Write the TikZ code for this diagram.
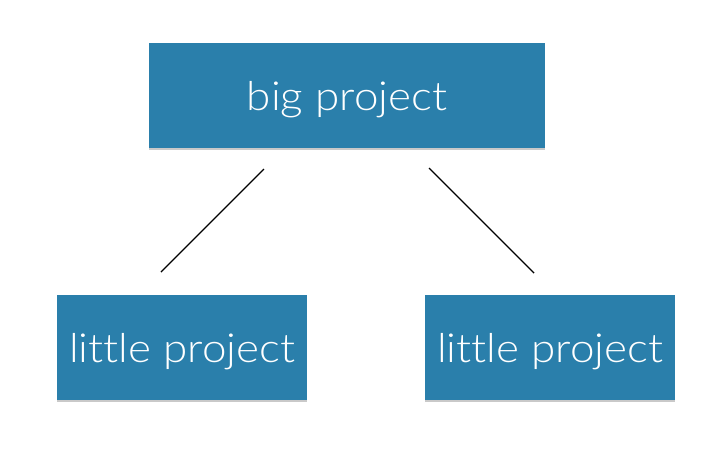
\documentclass[tikz,border=0pt]{standalone}
\usepackage{fontspec}
\setmainfont{Lato Light}[Ligatures=NoCommon, FakeStretch=1.1]
\usetikzlibrary{shadows}
\definecolor{boxblue}{HTML}{2A7FAB}
\begin{document}
\begin{tikzpicture}[x=1pt,y=-1pt,
  proj/.style={fill=boxblue, draw=none, text=white, inner sep=0pt,
    drop shadow={shadow xshift=0pt, shadow yshift=-1.5pt, opacity=0.35, fill=black!60},
    font=\fontsize{40}{46}\selectfont, text depth=0pt, text height=30pt},
  link/.style={draw=black, line width=1.4pt}]
\useasboundingbox[fill=white] (0,0) rectangle (722,461);
\node[proj, minimum width=396pt, minimum height=105pt] (big) at (347,95.5) {big project};
\node[proj, minimum width=250pt, minimum height=105pt] (l1) at (182,347.5) {little project};
\node[proj, minimum width=250pt, minimum height=105pt] (l2) at (550,347.5) {little project};
\coordinate (a1) at (264,169);
\coordinate (a2) at (161,272);
\coordinate (b1) at (429,168);
\coordinate (b2) at (534,273);
\draw[link] (a1) -- (a2);
\draw[link] (b1) -- (b2);
\end{tikzpicture}
\end{document}
